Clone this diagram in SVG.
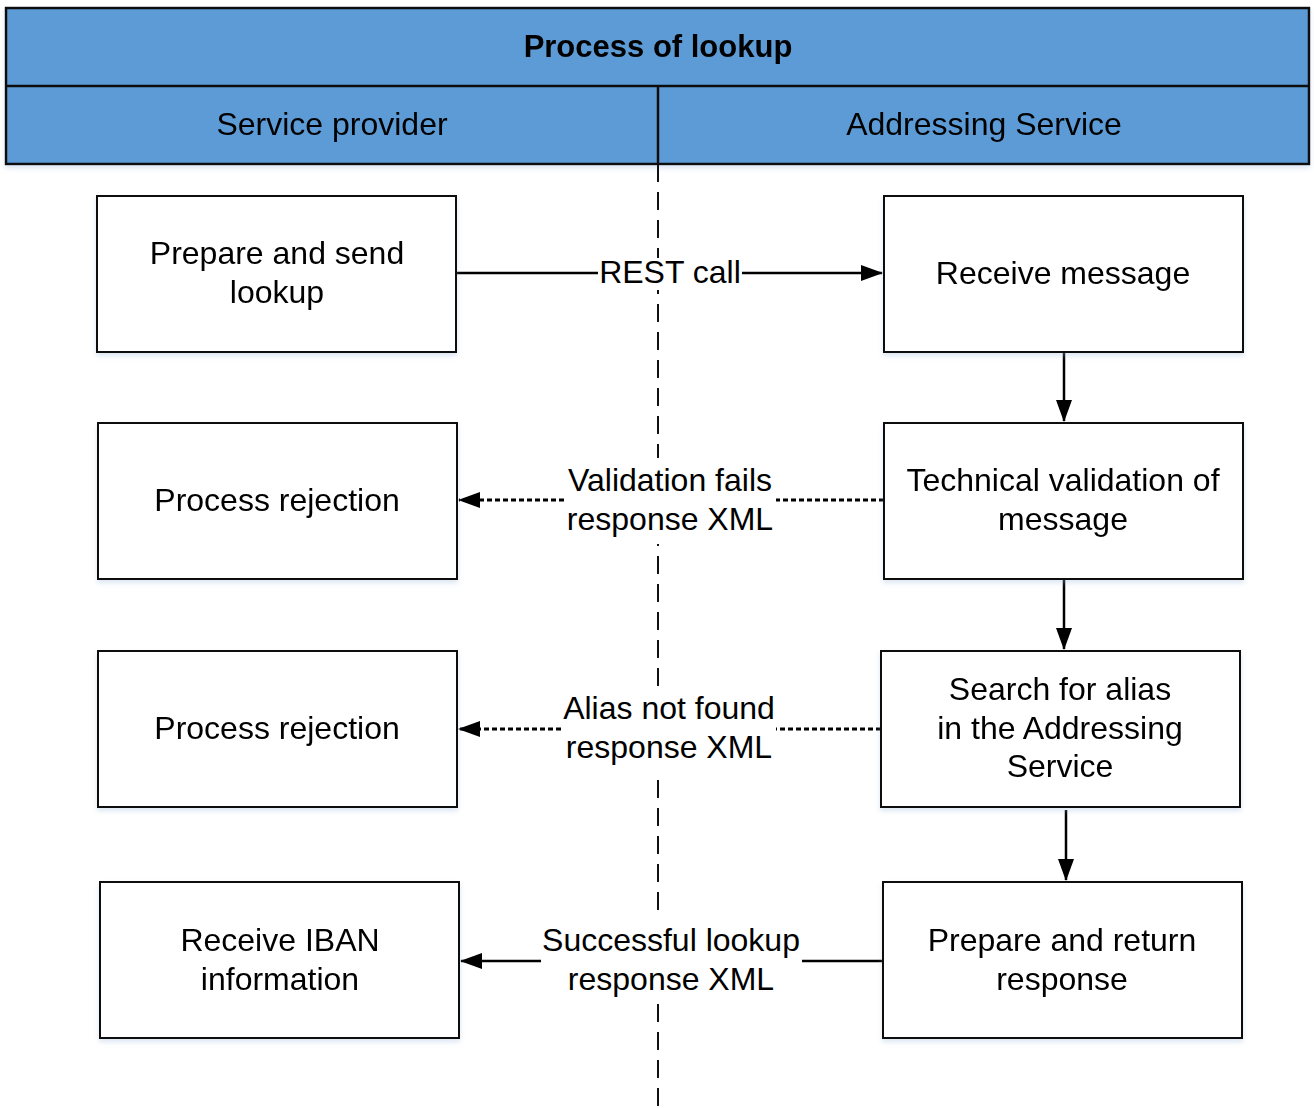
<svg xmlns="http://www.w3.org/2000/svg" width="1314" height="1108" viewBox="0 0 1314 1108">
  <style>
    .hdr { fill: #5B9BD5; stroke: #111; stroke-width: 2.5; }
    .box { fill: #fff; stroke: #111; stroke-width: 2; }
    .t { font-family: "Liberation Sans", Arial, sans-serif; font-size: 32px; fill: #000; text-anchor: middle; }
    .tb { font-weight: bold; font-size: 31px; }
    .lbl { fill: #fff; }
    .ln { fill: none; stroke: #000; stroke-width: 2.5; }
    .dot { stroke-dasharray: 5 3; stroke-width: 2.8; }
    .lane { fill: none; stroke: #111; stroke-width: 2; stroke-dasharray: 18 10; }
  </style>
  <defs>
    <marker id="arrL" markerWidth="22" markerHeight="16" refX="21" refY="8" orient="auto" markerUnits="userSpaceOnUse" viewBox="0 0 22 16">
      <path d="M0,0 L22,8 L0,16 Z" fill="#000"/>
    </marker>
    <filter id="sh" x="-5%" y="-5%" width="110%" height="115%">
      <feDropShadow dx="0" dy="3" stdDeviation="2.5" flood-color="#9db8d9" flood-opacity="0.35"/>
    </filter>
  </defs>

  <!-- pool header -->
  <g id="header" filter="url(#sh)">
    <rect class="hdr" x="6" y="8" width="1303" height="156"/>
    <line x1="6" y1="86" x2="1309" y2="86" stroke="#111" stroke-width="2.5"/>
    <line x1="658" y1="86" x2="658" y2="164" stroke="#111" stroke-width="2.5"/>
    <text class="t tb" x="658" y="57">Process of lookup</text>
    <text class="t" x="332" y="135">Service provider</text>
    <text class="t" x="984" y="135">Addressing Service</text>
  </g>

  <!-- lane divider -->
  <line class="lane" x1="658" y1="164" x2="658" y2="1108"/>

  <!-- connectors -->
  <g id="connectors">
    <line class="ln" x1="456" y1="273" x2="882" y2="273" marker-end="url(#arrL)"/>
    <line class="ln" x1="1064" y1="352" x2="1064" y2="421" marker-end="url(#arrL)"/>
    <line class="ln" x1="1064" y1="579" x2="1064" y2="649" marker-end="url(#arrL)"/>
    <line class="ln" x1="1066" y1="810" x2="1066" y2="880" marker-end="url(#arrL)"/>
    <line class="ln dot" x1="884" y1="500" x2="459" y2="500" marker-end="url(#arrL)"/>
    <line class="ln dot" x1="881" y1="729" x2="459" y2="729" marker-end="url(#arrL)"/>
    <line class="ln" x1="883" y1="961" x2="461" y2="961" marker-end="url(#arrL)"/>

    <rect class="lbl" x="598" y="258" width="144" height="32"/>
    <text class="t" x="670" y="283">REST call</text>

    <rect class="lbl" x="566" y="458" width="210" height="86"/>
    <text class="t" x="670" y="491">Validation fails</text>
    <text class="t" x="670" y="530">response XML</text>

    <rect class="lbl" x="562" y="686" width="214" height="86"/>
    <text class="t" x="669" y="719">Alias not found</text>
    <text class="t" x="669" y="758">response XML</text>

    <rect class="lbl" x="541" y="918" width="261" height="86"/>
    <text class="t" x="671" y="951">Successful lookup</text>
    <text class="t" x="671" y="990">response XML</text>
  </g>

  <!-- service provider lane -->
  <g id="prepare-send" filter="url(#sh)">
    <rect class="box" x="97" y="196" width="359" height="156"/>
    <text class="t" x="277" y="264">Prepare and send</text>
    <text class="t" x="277" y="303">lookup</text>
  </g>
  <g id="rejection-validation" filter="url(#sh)">
    <rect class="box" x="98" y="423" width="359" height="156"/>
    <text class="t" x="277" y="511">Process rejection</text>
  </g>
  <g id="rejection-alias" filter="url(#sh)">
    <rect class="box" x="98" y="651" width="359" height="156"/>
    <text class="t" x="277" y="739">Process rejection</text>
  </g>
  <g id="receive-iban" filter="url(#sh)">
    <rect class="box" x="100" y="882" width="359" height="156"/>
    <text class="t" x="280" y="951">Receive IBAN</text>
    <text class="t" x="280" y="990">information</text>
  </g>

  <!-- addressing service lane -->
  <g id="receive-message" filter="url(#sh)">
    <rect class="box" x="884" y="196" width="359" height="156"/>
    <text class="t" x="1063" y="284">Receive message</text>
  </g>
  <g id="technical-validation" filter="url(#sh)">
    <rect class="box" x="884" y="423" width="359" height="156"/>
    <text class="t" x="1063" y="491">Technical validation of</text>
    <text class="t" x="1063" y="530">message</text>
  </g>
  <g id="search-alias" filter="url(#sh)">
    <rect class="box" x="881" y="651" width="359" height="156"/>
    <text class="t" x="1060" y="700">Search for alias</text>
    <text class="t" x="1060" y="739">in the Addressing</text>
    <text class="t" x="1060" y="777">Service</text>
  </g>
  <g id="prepare-return" filter="url(#sh)">
    <rect class="box" x="883" y="882" width="359" height="156"/>
    <text class="t" x="1062" y="951">Prepare and return</text>
    <text class="t" x="1062" y="990">response</text>
  </g>
</svg>
